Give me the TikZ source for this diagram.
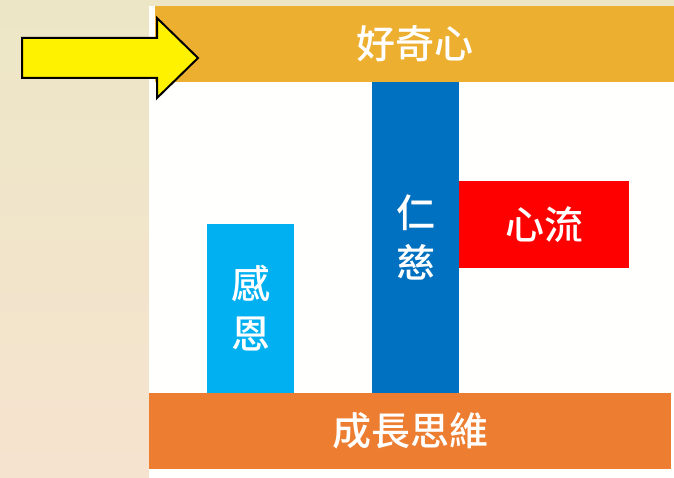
\documentclass[tikz,border=0pt]{standalone}
\usepackage{fontspec}
\newfontfamily\cjk{Noto Sans CJK TC}[BoldFont={Noto Sans CJK TC Medium}]
\definecolor{bgtop}{HTML}{ECE6C6}
\definecolor{bgbot}{HTML}{F6E3CF}
\definecolor{topbar}{HTML}{ECAF30}
\definecolor{botbar}{HTML}{ED7D31}
\definecolor{darkblue}{HTML}{0070C0}
\definecolor{lightblue}{HTML}{00B0F0}
\definecolor{redbar}{HTML}{FF0000}
\definecolor{panel}{HTML}{FFFFFD}
\tikzset{
  bar/.style={rectangle, inner sep=0pt, outer sep=0pt, draw=none, text=white,
    font=\cjk\bfseries\fontsize{39}{50}\selectfont, align=center},
}
\begin{document}
\begin{tikzpicture}[x=1pt,y=-1pt]
\useasboundingbox (0,0) rectangle (674,478);
% background
\shade[top color=bgtop, bottom color=bgbot] (0,0) rectangle (674,478);
\fill[panel] (149,6) rectangle (674,478);
% bars
\node[bar, fill=topbar, minimum width=519pt, minimum height=76pt] (curiosity) at (414.5,44) {好奇心};
\node[bar, fill=botbar, minimum width=522pt, minimum height=76pt] (growth) at (410,431) {成長思維};
\node[bar, fill=darkblue, minimum width=87pt, minimum height=311pt] (kindness) at (415.5,237.5) {仁\\慈};
\node[bar, fill=lightblue, minimum width=87pt, minimum height=169pt] (gratitude) at (250.5,308.5) {感\\恩};
\node[bar, fill=redbar, minimum width=170pt, minimum height=87pt] (flow) at (544,224.5) {心流};
% arrow
\draw[fill=yellow, draw=black, line width=2pt, line join=miter]
  (22,38) -- (157,38) -- (157,18) -- (198,58) -- (157,98) -- (157,78) -- (22,78) -- cycle;
\end{tikzpicture}
\end{document}
